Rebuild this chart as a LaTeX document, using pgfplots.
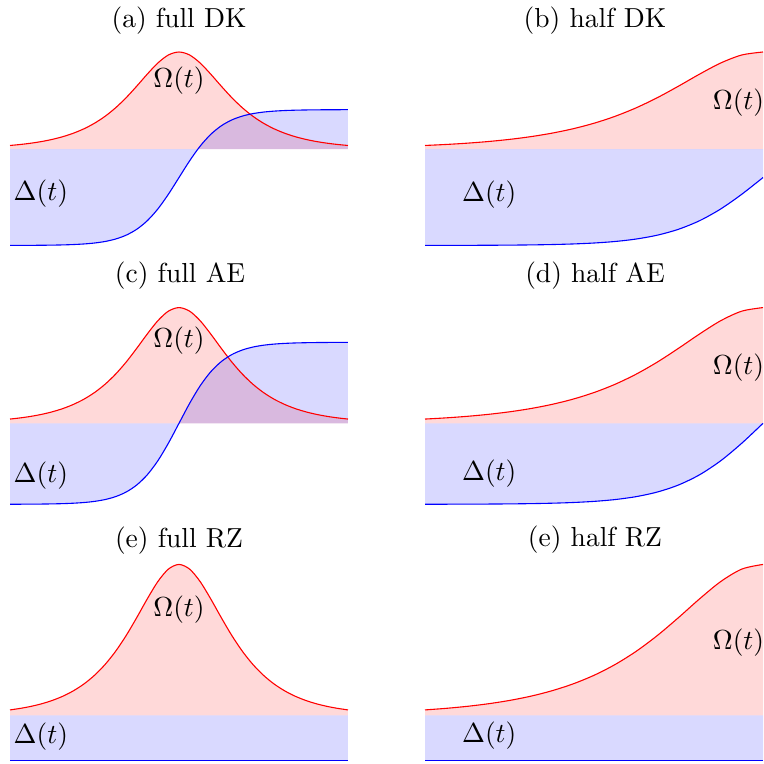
\documentclass[border=0pt]{standalone}
\usepackage{pgfplots}
\usepackage{pgfplotstable}
\pgfplotsset{compat=1.18}

% Pulse shapes: Rabi frequency Omega(t) = sech(t), detunings for the
% Demkov-Kunike (DK), Allen-Eberly (AE) and Rosen-Zener (RZ) models.
\pgfplotstableread{
t      Om      DK       AE       RZ
-4.00  0.0366  -0.9935  -0.6995  -0.3
-3.75  0.0470  -0.9932  -0.6992  -0.3
-3.50  0.0603  -0.9927  -0.6987  -0.3
-3.25  0.0774  -0.9919  -0.6979  -0.3
-3.00  0.0993  -0.9905  -0.6965  -0.3
-2.75  0.1273  -0.9883  -0.6943  -0.3
-2.50  0.1631  -0.9846  -0.6906  -0.3
-2.25  0.2085  -0.9786  -0.6846  -0.3
-2.00  0.2658  -0.9688  -0.6748  -0.3
-1.75  0.3374  -0.9530  -0.6590  -0.3
-1.50  0.4251  -0.9276  -0.6336  -0.3
-1.25  0.5295  -0.8878  -0.5938  -0.3
-1.00  0.6481  -0.8271  -0.5331  -0.3
-0.75  0.7724  -0.7386  -0.4446  -0.3
-0.50  0.8868  -0.6175  -0.3235  -0.3
-0.25  0.9695  -0.4654  -0.1714  -0.3
 0.00  1.0000  -0.2940   0.0000  -0.3
 0.25  0.9695  -0.1226   0.1714  -0.3
 0.50  0.8868   0.0295   0.3235  -0.3
 0.75  0.7724   0.1506   0.4446  -0.3
 1.00  0.6481   0.2391   0.5331  -0.3
 1.25  0.5295   0.2998   0.5938  -0.3
 1.50  0.4251   0.3396   0.6336  -0.3
 1.75  0.3374   0.3650   0.6590  -0.3
 2.00  0.2658   0.3808   0.6748  -0.3
 2.25  0.2085   0.3906   0.6846  -0.3
 2.50  0.1631   0.3966   0.6906  -0.3
 2.75  0.1273   0.4003   0.6943  -0.3
 3.00  0.0993   0.4025   0.6965  -0.3
 3.25  0.0774   0.4039   0.6979  -0.3
 3.50  0.0603   0.4047   0.6987  -0.3
 3.75  0.0470   0.4052   0.6992  -0.3
 4.00  0.0366   0.4055   0.6995  -0.3
}\pulses

\pgfplotsset{
  panel/.style={hide axis, scale only axis, width=122.90pt, clip=false,
    anchor=north west, xmin=-4, enlargelimits=false},
  full/.style={xmax=4},
  half/.style={xmax=0, restrict x to domain=-4:0},
}

% Filled Omega and Delta curves, then the outlines on top
\newcommand\pulsepanel[1]{%
  \addplot[draw=none, fill=red, fill opacity=0.15, smooth] table[x=t,y=Om]{\pulses} \closedcycle;
  \addplot[draw=none, fill=blue, fill opacity=0.15, smooth] table[x=t,y=#1]{\pulses} \closedcycle;
  \addplot[red, smooth] table[x=t,y=Om]{\pulses};
  \addplot[blue, smooth] table[x=t,y=#1]{\pulses};
}

\begin{document}
\begin{tikzpicture}
\useasboundingbox (0,0) rectangle (277.79pt,-277.79pt);

% titles
\node at (65.08pt,-7.45pt) {(a) full DK};
\node at (216.34pt,-7.56pt) {(b) half DK};
\node at (65.45pt,-100.28pt) {(c) full AE};
\node at (216.34pt,-100.28pt) {(d) half AE};
\node at (65.08pt,-196.53pt) {(e) full RZ};
\node at (216.34pt,-196.3pt) {(e) half RZ};

% row 1: Demkov-Kunike
\begin{axis}[panel, full, at={(3.64pt,-18.91pt)}, height=70.32pt, ymin=-0.9935, ymax=1]
  \pulsepanel{DK}
  \node at (axis cs:0,0.70) {$\Omega(t)$};
  \node at (axis cs:-3.27,-0.457) {$\Delta(t)$};
\end{axis}
\begin{axis}[panel, half, at={(154.53pt,-18.91pt)}, height=70.32pt, ymin=-0.9935, ymax=1]
  \pulsepanel{DK}
  \node at (axis cs:-0.29,0.474) {$\Omega(t)$};
  \node at (axis cs:-3.24,-0.474) {$\Delta(t)$};
\end{axis}

% row 2: Allen-Eberly
\begin{axis}[panel, full, at={(3.64pt,-111.84pt)}, height=71.52pt, ymin=-0.7, ymax=1]
  \pulsepanel{AE}
  \node at (axis cs:0,0.711) {$\Omega(t)$};
  \node at (axis cs:-3.27,-0.455) {$\Delta(t)$};
\end{axis}
\begin{axis}[panel, half, at={(154.53pt,-111.84pt)}, height=71.52pt, ymin=-0.7, ymax=1]
  \pulsepanel{AE}
  \node at (axis cs:-0.29,0.478) {$\Omega(t)$};
  \node at (axis cs:-3.24,-0.438) {$\Delta(t)$};
\end{axis}

% row 3: Rosen-Zener
\begin{axis}[panel, full, at={(3.64pt,-205.23pt)}, height=71.37pt, ymin=-0.3, ymax=1]
  \pulsepanel{RZ}
  \node at (axis cs:0,0.70) {$\Omega(t)$};
  \node at (axis cs:-3.27,-0.137) {$\Delta(t)$};
\end{axis}
\begin{axis}[panel, half, at={(154.53pt,-205.23pt)}, height=71.37pt, ymin=-0.3, ymax=1]
  \pulsepanel{RZ}
  \node at (axis cs:-0.29,0.483) {$\Omega(t)$};
  \node at (axis cs:-3.24,-0.132) {$\Delta(t)$};
\end{axis}
\end{tikzpicture}
\end{document}
